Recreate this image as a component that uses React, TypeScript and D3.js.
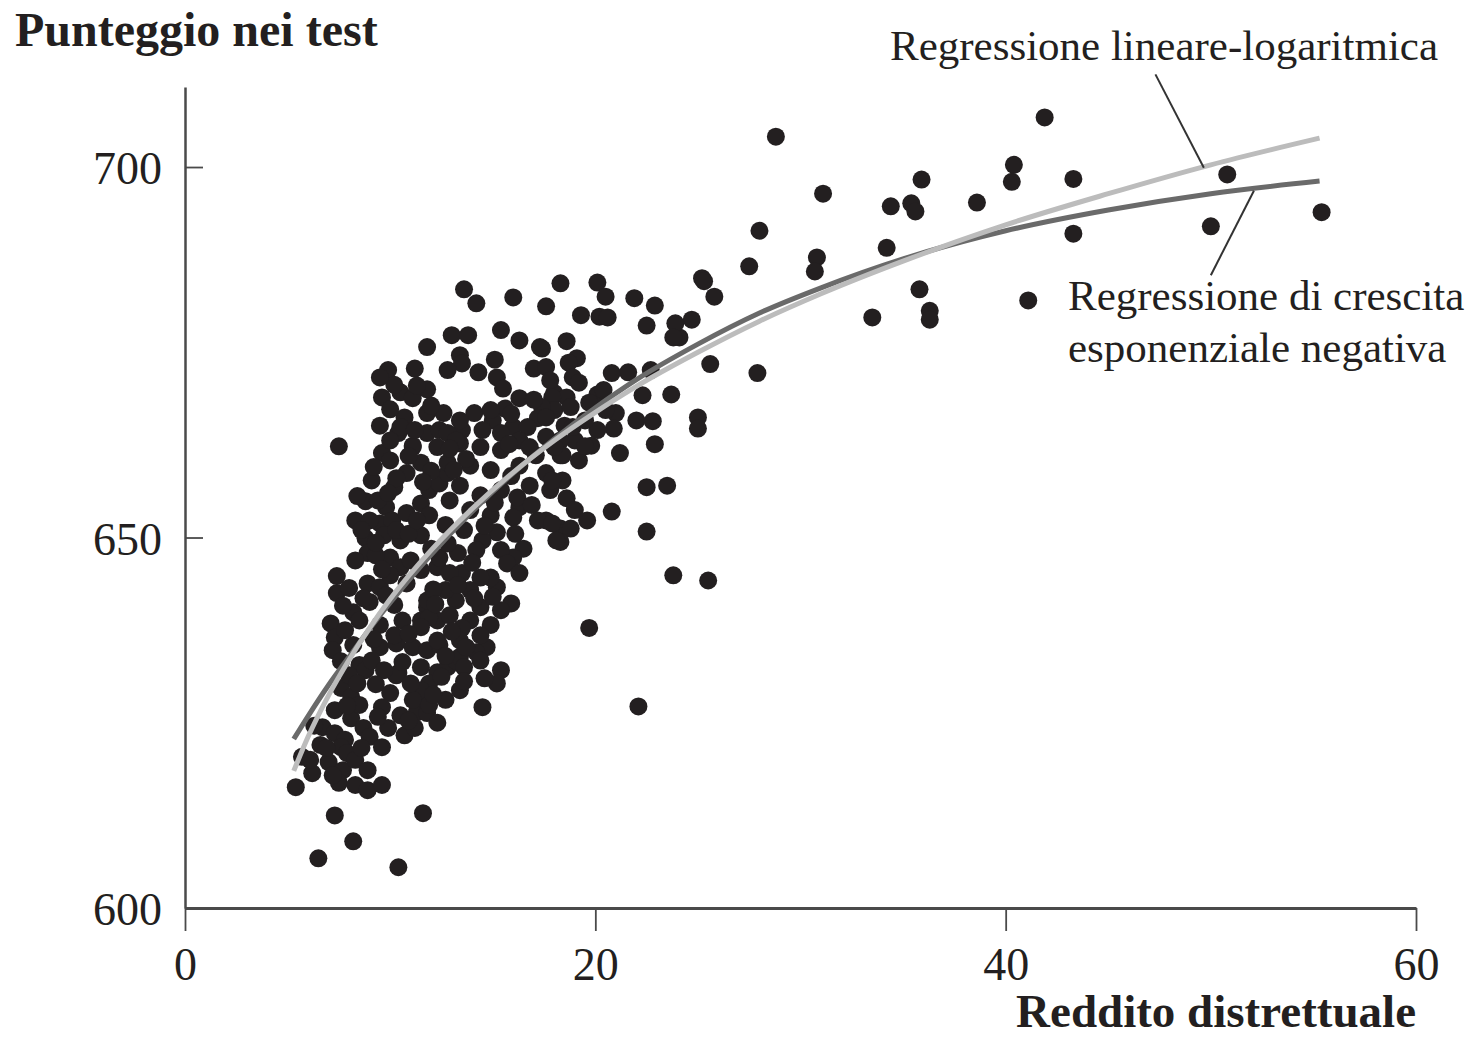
import React, { useEffect, useRef } from 'react';
import * as d3 from 'd3';

// assi
const xTicks = [0, 20, 40, 60];
const yTicks = [600, 650, 700];
const yTitle = 'Punteggio nei test';
const xTitle = 'Reddito distrettuale';
const linLogLabel = ['Regressione lineare-logaritmica'];
const negExpLabel = ['Regressione di crescita', 'esponenziale negativa'];

// curve di regressione
const curveIncome = [5.3, 6, 7, 8, 9, 10, 12, 14, 16, 18, 20, 22, 25, 28, 31, 35, 40, 45, 50, 55.3];
const linLogScore = [618.5, 623.1, 628.7, 633.5, 637.8, 641.7, 648.3, 653.9, 658.8, 663.1, 666.9, 670.4, 675.0, 679.2, 682.9, 687.3, 692.2, 696.4, 700.3, 703.9];
const negExpScore = [622.8, 625.9, 630.1, 633.9, 637.7, 641.2, 647.7, 653.5, 658.7, 663.3, 667.5, 671.3, 676.1, 680.3, 683.7, 687.6, 691.4, 694.2, 696.4, 698.1];

// linee di richiamo [x1, y1, x2, y2]
const linLogLeader = [47.3, 712.5, 49.66, 699.9];
const negExpLeader = [52.1, 696.8, 50.0, 685.4];

// distretti: [reddito, punteggio]
const districts: [number, number][] = [
  [28.8, 704.1], [41.9, 706.7], [35.9, 698.3], [31.1, 696.4], [28.0, 691.4], [27.5, 686.6], [34.4, 694.7], [35.4, 695.1], [35.6, 694.0], [38.6, 695.2],
  [40.4, 700.3], [40.3, 698.0], [30.8, 687.8], [30.7, 685.9], [34.2, 689.1], [25.2, 685.0], [25.3, 684.6], [25.8, 682.5], [24.7, 679.4], [24.1, 677.0],
  [35.8, 683.5], [36.3, 680.6], [36.3, 679.4], [33.5, 679.7], [25.6, 673.4], [27.9, 672.2], [43.3, 698.4], [50.8, 699.0], [43.3, 691.0], [50.0, 692.0],
  [55.4, 693.9], [41.1, 682.0], [23.7, 669.3],
  [18.3, 684.3], [20.1, 684.4], [20.5, 682.5], [17.6, 681.2], [19.3, 680.0], [20.2, 679.8], [20.6, 679.7], [21.9, 682.3], [22.9, 681.3], [22.5, 678.6],
  [23.9, 678.9], [23.8, 677.0], [18.6, 676.5], [19.1, 674.2], [18.7, 673.6], [20.8, 672.2], [21.6, 672.3], [22.7, 672.6], [18.9, 671.6], [19.2, 670.9],
  [20.1, 669.3], [20.4, 669.9], [22.3, 669.2], [18.0, 669.5], [18.6, 668.9], [21.0, 666.8], [22.0, 665.8], [22.8, 665.7], [20.9, 664.7], [25.0, 666.2],
  [25.0, 664.7], [19.8, 662.4], [22.9, 662.6], [21.2, 661.4],
  [22.5, 656.8], [23.5, 657.0], [20.8, 653.5], [22.5, 650.8], [23.8, 644.9], [25.5, 644.2], [19.7, 637.8], [22.1, 627.2], [17.6, 658.7], [18.4, 657.7],
  [17.8, 656.4], [18.6, 655.3], [19.0, 653.7], [19.6, 652.3], [17.6, 652.3], [18.3, 651.2], [18.8, 651.2], [18.3, 649.4],
  [13.6, 683.5], [14.2, 681.6], [16.0, 682.4], [15.4, 678.0], [16.3, 676.6], [17.4, 675.5], [13.0, 677.3], [13.8, 677.3], [11.8, 675.7], [13.4, 674.6],
  [13.5, 673.5], [12.8, 672.6], [14.3, 672.3], [15.1, 674.0], [15.2, 671.6], [15.5, 670.1], [17.0, 672.8], [17.6, 673.0], [17.8, 671.2], [9.9, 672.6],
  [11.2, 672.8], [11.8, 670.0], [10.5, 669.6], [11.1, 668.8], [16.3, 668.8], [15.6, 667.4], [14.1, 666.8], [12.6, 666.8], [11.8, 666.8], [10.7, 666.2],
  [17.9, 668.9], [18.0, 667.2], [17.4, 667.6], [17.2, 666.1], [10.4, 664.1], [11.1, 662.2], [9.6, 668.9],
  [7.5, 662.3], [9.6, 661.4], [10.0, 660.4], [11.1, 662.4], [10.5, 664.9], [11.8, 664.1], [12.4, 664.5], [11.5, 660.1], [10.8, 658.7], [8.8, 654.9],
  [8.8, 649.9], [8.9, 647.9], [7.4, 644.8], [7.4, 642.5], [8.9, 643.8], [9.5, 643.3], [10.0, 647.3], [10.5, 646.0], [8.2, 639.9], [8.5, 638.8],
  [7.1, 638.4], [7.3, 636.5], [9.0, 641.3], [11.8, 640.6], [12.3, 638.8], [11.5, 638.8],
  [10.2, 656.8], [9.8, 654.1], [9.5, 651.9], [10.1, 652.3], [10.8, 653.3], [11.5, 654.6], [11.9, 656.4], [12.4, 657.3], [12.8, 658.7],
  [7.2, 634.8], [8.5, 632.8], [8.8, 632.1], [8.2, 635.5], [9.5, 635.2], [10.3, 635.7], [11.1, 635.2], [11.8, 634.8], [12.4, 635.5], [10.4, 631.7],
  [11.5, 632.5], [12.3, 631.8], [11.9, 630.3], [12.8, 632.5], [13.2, 633.4], [7.6, 629.7], [8.1, 628.5], [10.0, 629.0], [9.6, 627.1], [11.4, 628.3],
  [11.3, 626.4], [11.8, 626.3], [12.3, 625.0], [6.7, 624.4], [7.3, 623.6], [7.8, 622.7], [8.1, 625.6], [8.7, 624.3], [9.0, 623.1], [7.6, 621.7],
  [7.9, 620.9], [9.6, 621.7], [5.7, 620.4], [7.0, 619.7], [7.7, 618.6], [7.5, 616.9], [6.2, 618.2], [5.4, 616.3], [8.3, 616.6], [8.9, 615.9],
  [9.6, 616.6], [7.3, 612.5], [11.6, 612.8], [8.2, 609.0], [6.5, 606.7], [10.4, 605.5],
  [15.9, 641.1], [14.4, 640.6], [13.9, 638.8], [13.5, 637.8], [15.2, 643.3], [14.9, 644.6], [14.4, 644.6], [13.5, 645.2], [16.5, 648.5], [16.0, 647.3],
  [15.4, 648.3], [15.7, 646.5], [17.2, 652.3], [17.9, 651.9], [18.1, 649.6], [16.3, 654.1], [16.2, 655.4], [16.0, 652.7], [17.9, 657.7], [15.2, 650.7],
  [14.5, 649.6], [14.2, 648.3], [14.7, 635.2], [14.2, 634.5], [13.4, 633.9], [13.6, 632.5], [14.4, 633.4], [15.4, 632.1], [15.2, 630.3], [12.5, 631.2],
  [11.5, 629.4], [14.5, 627.1], [10.3, 631.4], [11.1, 628.1], [11.9, 627.4], [11.8, 641.5], [11.9, 639.2], [12.3, 636.1], [11.5, 637.9], [10.6, 638.8],
  [10.8, 643.8], [11.5, 645.6], [12.3, 646.0], [12.9, 645.2], [12.4, 647.3], [13.3, 647.9], [12.8, 649.2],
  [15.0, 665.8], [16.0, 664.9], [16.7, 664.9], [15.4, 664.1], [14.5, 664.5], [13.5, 664.5], [12.8, 664.1], [13.4, 662.7], [14.4, 662.2], [15.4, 661.8],
  [12.3, 662.2], [12.8, 660.1], [13.9, 659.7], [14.9, 659.1], [16.3, 659.7], [17.1, 661.1], [18.3, 661.1], [19.2, 660.4], [19.0, 663.1], [20.1, 664.5],
  [19.5, 665.8], [18.5, 665.1], [16.3, 663.1], [13.4, 657.0], [14.4, 655.7], [15.4, 656.4], [16.8, 657.0], [12.9, 655.0], [13.9, 653.7], [14.9, 653.0],
  [11.9, 653.0], [12.7, 651.7], [13.6, 651.0], [11.5, 650.3], [10.5, 649.6], [9.7, 650.3], [12.0, 648.5], [9.3, 647.6], [8.3, 646.9], [10.0, 644.9],
  [11.0, 646.9], [13.9, 642.9], [13.2, 641.5], [12.7, 642.9], [15.4, 640.2], [14.9, 638.2], [14.4, 636.8], [13.4, 636.1], [12.9, 639.5], [10.2, 640.9],
  [9.5, 638.2], [10.2, 636.8], [7.8, 637.5], [9.1, 633.4], [9.7, 632.1], [8.0, 631.4], [11.0, 630.3], [13.4, 629.4], [12.7, 628.1], [10.5, 626.0],
  [8.5, 627.4], [7.3, 626.7], [9.9, 624.3], [10.7, 623.3], [11.2, 624.3], [8.3, 620.0], [8.9, 618.6], [6.6, 622.0], [6.1, 620.0],
  [9.5, 665.1], [11.2, 664.5], [13.2, 663.1], [10.0, 663.1], [9.1, 657.7], [9.4, 655.0], [8.3, 652.3], [9.0, 652.3], [14.9, 667.2], [13.4, 665.8],
  [17.3, 675.7], [18.8, 667.6], [18.3, 663.1], [18.4, 661.1], [17.6, 666.2], [18.9, 664.9], [18.0, 662.2],
  [10.9, 661.0], [12.0, 659.0], [12.9, 662.0], [13.7, 660.6], [11.6, 657.5], [10.3, 658.0], [9.2, 659.5],
  [8.6, 651.0], [9.3, 649.3], [10.3, 651.0], [9.9, 656.0], [10.9, 650.5], [11.3, 652.3], [8.4, 655.6], [9.6, 645.7],
  [7.7, 640.8], [8.0, 643.2], [8.7, 641.8], [9.8, 642.2], [7.6, 633.3], [8.4, 630.3], [9.3, 630.2], [10.6, 633.2], [9.2, 636.3], [10.9, 637.0],
  [7.9, 627.3], [9.4, 625.8], [12.7, 634.0], [13.7, 635.2], [12.1, 643.0], [13.0, 637.3], [14.1, 641.8], [13.6, 630.6], [12.1, 628.8], [10.9, 625.3],
  [14.6, 631.0], [15.8, 662.6], [16.8, 662.2], [17.6, 663.6], [15.9, 666.7], [17.0, 668.6], [19.7, 668.2], [20.5, 667.2], [19.5, 662.3],
  [15.9, 658.3], [16.9, 654.4], [14.6, 651.6], [16.1, 650.5], [13.1, 659.1], [15.1, 654.7], [14.0, 646.6], [15.0, 642.0], [16.3, 645.2], [13.3, 643.6],
  [12.2, 641.0], [10.2, 670.6], [9.5, 671.6], [12.0, 667.8], [11.3, 670.5], [10.0, 667.3], [6.9, 621.6], [6.3, 624.6], [8.6, 621.6], [7.2, 617.9],
];

const App = () => {
  const svgRef = useRef<SVGSVGElement>(null);

  useEffect(() => {
    const svg = d3.select(svgRef.current);
    svg.selectAll('*').remove();

    const serif = '"Liberation Serif", "Times New Roman", serif';
    const x = d3.scaleLinear().domain([0, 60]).range([185, 1416]);
    const y = d3.scaleLinear().domain([600, 710.8]).range([908, 87]);

    // punti
    svg.append('g')
      .selectAll('circle')
      .data(districts)
      .join('circle')
      .attr('cx', d => x(d[0]))
      .attr('cy', d => y(d[1]))
      .attr('r', 9)
      .attr('fill', '#231f20');

    // curve
    const line = d3.line<number>()
      .x((_, i) => x(curveIncome[i]))
      .y(d => y(d))
      .curve(d3.curveMonotoneX);

    svg.append('path')
      .datum(negExpScore)
      .attr('fill', 'none')
      .attr('stroke', '#6a6a6a')
      .attr('stroke-width', 5)
      .attr('d', line);

    svg.append('path')
      .datum(linLogScore)
      .attr('fill', 'none')
      .attr('stroke', '#bcbcbc')
      .attr('stroke-width', 5)
      .attr('d', line);

    // asse y
    const yAxis = svg.append('g')
      .attr('transform', `translate(${x(0)},0)`)
      .call(d3.axisLeft(y).tickValues(yTicks).tickSize(-18).tickSizeOuter(0).tickPadding(23));
    yAxis.select('.domain').attr('stroke', '#4a4a4a').attr('stroke-width', 2.5);
    yAxis.selectAll('.tick line').attr('stroke', '#4a4a4a').attr('stroke-width', 1.8);
    yAxis.selectAll('.tick text')
      .attr('font-family', serif).attr('font-size', 46).attr('fill', '#231f20').attr('dy', '0.36em');

    // asse x
    const xAxis = svg.append('g')
      .attr('transform', `translate(0,${y(600)})`)
      .call(d3.axisBottom(x).tickValues(xTicks).tickSize(23).tickSizeOuter(0).tickPadding(16));
    xAxis.select('.domain').attr('stroke', '#4a4a4a').attr('stroke-width', 3);
    xAxis.selectAll('.tick line').attr('stroke', '#4a4a4a').attr('stroke-width', 1.8);
    xAxis.selectAll('.tick text')
      .attr('font-family', serif).attr('font-size', 46).attr('fill', '#231f20');

    // titoli
    svg.append('text')
      .attr('x', 15).attr('y', 46)
      .attr('font-family', serif).attr('font-weight', 'bold').attr('font-size', 48).attr('fill', '#231f20')
      .text(yTitle);
    svg.append('text')
      .attr('x', x(60)).attr('y', 1027)
      .attr('text-anchor', 'end')
      .attr('font-family', serif).attr('font-weight', 'bold').attr('font-size', 47).attr('fill', '#231f20')
      .text(xTitle);

    // etichette e linee di richiamo
    [linLogLeader, negExpLeader].forEach(l => {
      svg.append('line')
        .attr('x1', x(l[0])).attr('y1', y(l[1]))
        .attr('x2', x(l[2])).attr('y2', y(l[3]))
        .attr('stroke', '#333').attr('stroke-width', 2);
    });

    svg.append('text')
      .attr('x', 890).attr('y', 60)
      .attr('font-family', serif).attr('font-size', 43).attr('fill', '#231f20')
      .text(linLogLabel[0]);

    negExpLabel.forEach((t, i) => {
      svg.append('text')
        .attr('x', 1068).attr('y', 310 + i * 52)
        .attr('font-family', serif).attr('font-size', 43).attr('fill', '#231f20')
        .text(t);
    });
  }, []);

  return (
    <svg
      ref={svgRef}
      width={1468}
      height={1038}
      style={{ position: 'absolute', left: 0, top: 0, background: '#fff' }}
    />
  );
};

export default App;
